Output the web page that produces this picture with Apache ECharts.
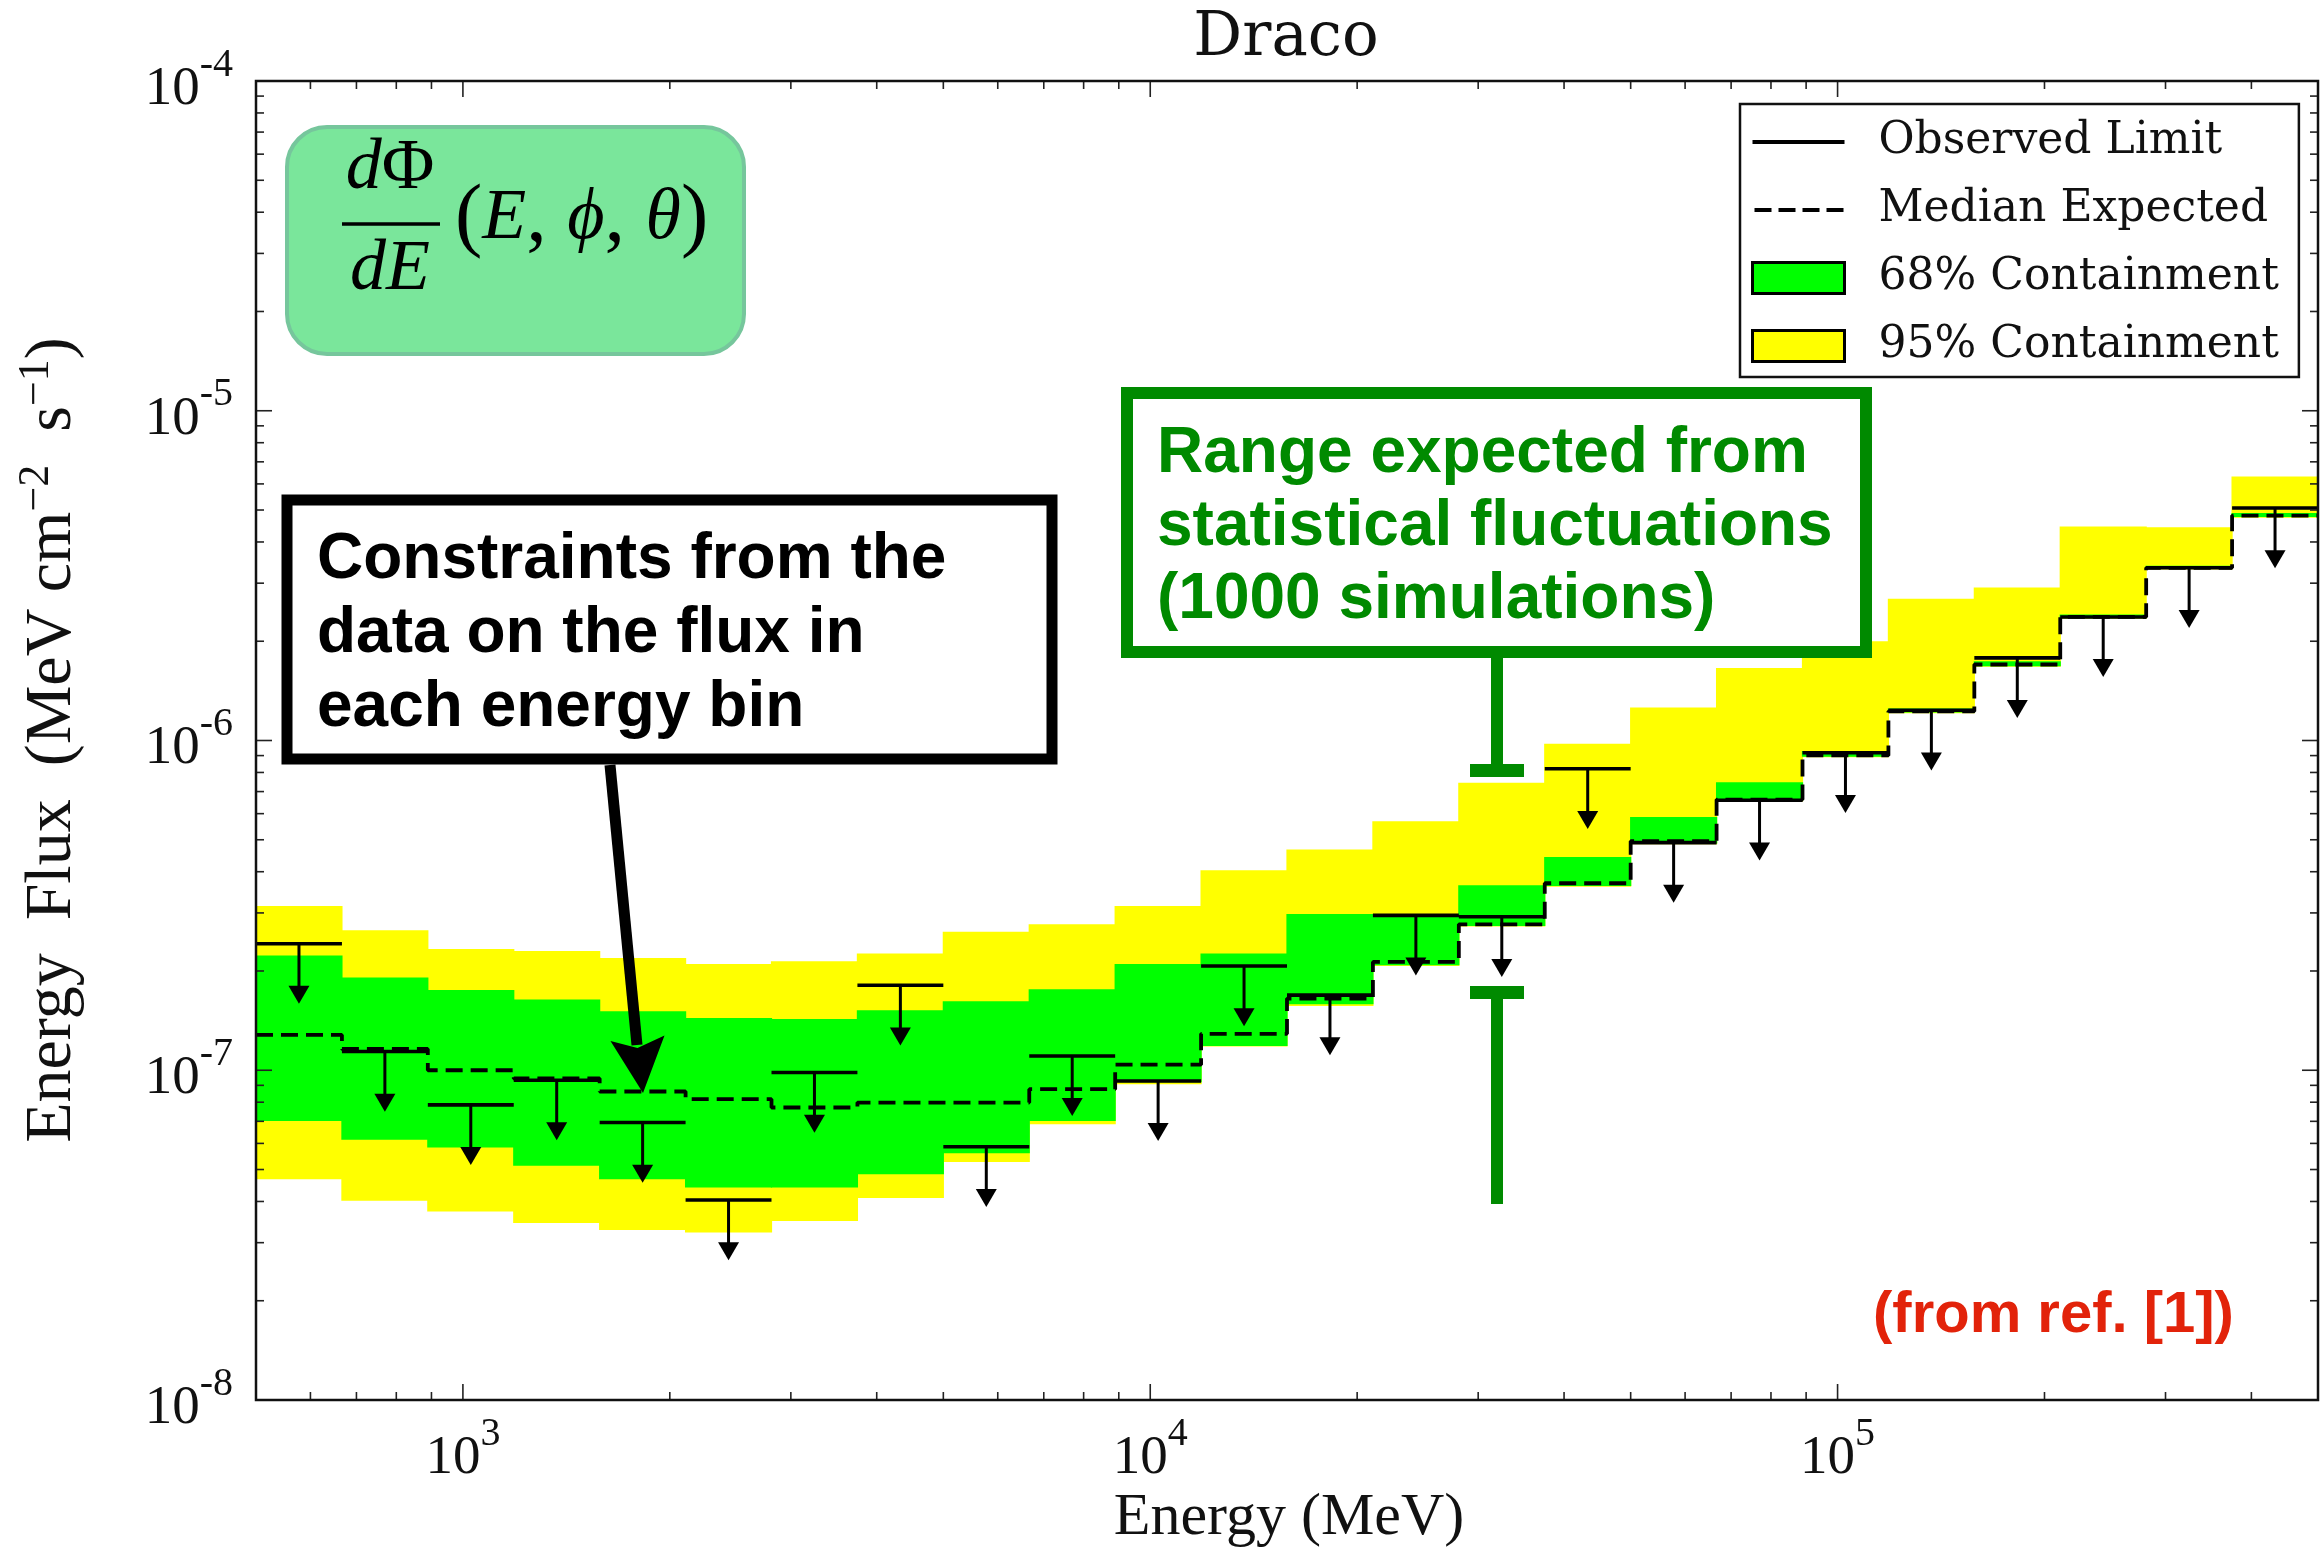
<!DOCTYPE html>
<html>
<head>
<meta charset="utf-8">
<script src="https://cdn.jsdelivr.net/npm/echarts@6/dist/echarts.min.js"></script>
<style>
  html, body { margin: 0; padding: 0; background: #ffffff; }
  #chart { width: 2320px; height: 1547px; }
</style>
</head>
<body>
<div id="chart"></div>
<script>
// Energy bin edges (MeV): 24 logarithmic bins between 500 MeV and 500 GeV
const binEdges = [500, 666.8, 889.1, 1185.7, 1581.1, 2108.5, 2811.7, 3749.5,
  5000, 6667.6, 8891.4, 11856.8, 15811.4, 21084.9, 28117.1, 37494.7,
  50000, 66676, 88914, 118568, 158114, 210848, 281171, 374947, 500000];

// Bin-by-bin 95% C.L. upper limits on the energy flux (MeV cm^-2 s^-1)
const observedLimit = [2.42e-7, 1.14e-7, 7.85e-8, 9.33e-8, 6.94e-8, 4.04e-8, 9.84e-8, 1.81e-7,
  5.86e-8, 1.105e-7, 9.28e-8, 2.07e-7, 1.69e-7, 2.95e-7, 2.92e-7, 8.21e-7,
  4.90e-7, 6.59e-7, 9.18e-7, 1.235e-6, 1.78e-6, 2.37e-6, 3.34e-6, 5.07e-6];

// Median of the simulated limits
const medianExpected = [1.28e-7, 1.16e-7, 1.0e-7, 9.44e-8, 8.62e-8, 8.17e-8, 7.71e-8, 7.98e-8,
  7.98e-8, 8.76e-8, 1.04e-7, 1.29e-7, 1.65e-7, 2.13e-7, 2.77e-7, 3.69e-7,
  4.95e-7, 6.62e-7, 9.01e-7, 1.226e-6, 1.70e-6, 2.37e-6, 3.34e-6, 4.81e-6];

// 68% containment of the simulated limits
const lower68 = [7.02e-8, 6.15e-8, 5.83e-8, 5.13e-8, 4.67e-8, 4.41e-8, 4.41e-8, 4.84e-8,
  5.60e-8, 7.02e-8, 9.20e-8, 1.185e-7, 1.585e-7, 2.08e-7, 2.74e-7, 3.62e-7,
  4.87e-7, 6.55e-7, 8.92e-7, 1.215e-6, 1.68e-6, 2.35e-6, 3.31e-6, 4.76e-6];
const upper68 = [2.23e-7, 1.91e-7, 1.75e-7, 1.64e-7, 1.51e-7, 1.44e-7, 1.43e-7, 1.52e-7,
  1.62e-7, 1.76e-7, 2.10e-7, 2.26e-7, 2.98e-7, 2.98e-7, 3.64e-7, 4.43e-7,
  5.86e-7, 7.47e-7, 9.30e-7, 1.25e-6, 1.74e-6, 2.41e-6, 3.39e-6, 4.90e-6];

// 95% containment of the simulated limits
const lower95 = [4.67e-8, 4.02e-8, 3.73e-8, 3.44e-8, 3.28e-8, 3.22e-8, 3.49e-8, 4.10e-8,
  5.27e-8, 6.86e-8, 9.07e-8, 1.18e-7, 1.566e-7, 2.07e-7, 2.73e-7, 3.60e-7,
  4.85e-7, 6.53e-7, 8.90e-7, 1.21e-6, 1.675e-6, 2.34e-6, 3.30e-6, 4.74e-6];
const upper95 = [3.15e-7, 2.66e-7, 2.33e-7, 2.30e-7, 2.19e-7, 2.10e-7, 2.14e-7, 2.26e-7,
  2.63e-7, 2.77e-7, 3.15e-7, 4.04e-7, 4.67e-7, 5.69e-7, 7.44e-7, 9.77e-7,
  1.26e-6, 1.66e-6, 2.00e-6, 2.69e-6, 2.91e-6, 4.46e-6, 4.43e-6, 6.32e-6];

// Axis ranges and tick labels
const X_MIN = 500, X_MAX = 500000, Y_MIN = 1e-8, Y_MAX = 1e-4;
const xMajorTicks = [1e3, 1e4, 1e5];
const xTickExponents = ['3', '4', '5'];
const yMajorTicks = [1e-8, 1e-7, 1e-6, 1e-5, 1e-4];
const yTickExponents = ['-8', '-7', '-6', '-5', '-4'];
const minorMantissas = [2, 3, 4, 5, 6, 7, 8, 9];
const xMinorTicks = [100, 1000, 10000, 100000]
  .flatMap(d => minorMantissas.map(m => m * d))
  .filter(v => v > X_MIN && v < X_MAX);
const yMinorTicks = [1e-8, 1e-7, 1e-6, 1e-5]
  .flatMap(d => minorMantissas.map(m => m * d));

const SERIF = "'Liberation Serif', 'DejaVu Serif', serif";
const LEGEND_SERIF = "'DejaVu Serif', serif";
const SANS = "'Liberation Sans', Arial, sans-serif";

// Legend glyphs: a solid bar and a four-dash bar inside a 92 x 31 box
const SOLID_ICON = 'path://M0,0L0.05,0L0,0.05Z M92,31L91.95,31L92,30.95Z M0,13.5L92,13.5L92,17.5L0,17.5Z';
const DASHED_ICON = 'path://M0,0L0.05,0L0,0.05Z M92,31L91.95,31L92,30.95Z ' +
  'M2,13.5L19,13.5L19,17.5L2,17.5Z M26,13.5L43,13.5L43,17.5L26,17.5Z ' +
  'M50,13.5L67,13.5L67,17.5L50,17.5Z M74,13.5L91,13.5L91,17.5L74,17.5Z';

function labelFor(v, ticks, exps) {
  for (let i = 0; i < ticks.length; i++) {
    if (Math.abs(v / ticks[i] - 1) < 1e-6) return '{b|10}{s|' + exps[i] + '}';
  }
  return '';
}
const tickRich = {
  b: { fontFamily: SERIF, fontSize: 55, lineHeight: 72, color: '#111', verticalAlign: 'bottom' },
  s: { fontFamily: SERIF, fontSize: 40, lineHeight: 32, color: '#111', verticalAlign: 'top' }
};

// Stepped line data built from the bin arrays
function stepLine(values) {
  const pts = [];
  values.forEach((v, i) => {
    pts.push([binEdges[i], v], [binEdges[i + 1], v]);
  });
  return pts;
}
function brokenSegments(values) {
  const pts = [];
  values.forEach((v, i) => {
    pts.push([binEdges[i], v], [binEdges[i + 1], v], [binEdges[i + 1], '-']);
  });
  return pts;
}
function bandData(lo, hi) {
  return lo.map((v, i) => [binEdges[i], binEdges[i + 1], v, hi[i]]);
}
function bandRenderer(color) {
  return function (params, api) {
    const p0 = api.coord([api.value(0), api.value(3)]);
    const p1 = api.coord([api.value(1), api.value(2)]);
    return {
      type: 'rect',
      shape: { x: p0[0] - 0.6, y: p0[1], width: p1[0] - p0[0] + 1.2, height: p1[1] - p0[1] },
      style: { fill: color }
    };
  };
}

const option = {
  animation: false,
  backgroundColor: '#ffffff',
  grid: { left: 256, right: 2, top: 81, bottom: 147, show: false, outerBoundsMode: 'none' },
  xAxis: {
    type: 'log', logBase: 10, min: X_MIN, max: X_MAX,
    axisLine: { show: false }, axisTick: { show: false }, splitLine: { show: false },
    axisLabel: {
      margin: 14,
      formatter: v => labelFor(v, xMajorTicks, xTickExponents),
      rich: tickRich
    }
  },
  yAxis: {
    type: 'log', logBase: 10, min: Y_MIN, max: Y_MAX,
    axisLine: { show: false }, axisTick: { show: false }, splitLine: { show: false },
    axisLabel: {
      margin: 23,
      formatter: v => labelFor(v, yMajorTicks, yTickExponents),
      rich: tickRich
    }
  },
  legend: {
    left: 1740, top: 104, orient: 'vertical',
    padding: [16, 20, 9, 11], itemGap: 24, itemWidth: 92, itemHeight: 31,
    backgroundColor: '#ffffff', borderColor: '#111', borderWidth: 2.5, borderRadius: 0,
    textStyle: { fontFamily: LEGEND_SERIF, fontSize: 44, color: '#111', padding: [0, 0, 0, 29] },
    data: [
      { name: 'Observed Limit', icon: SOLID_ICON, itemStyle: { color: '#000', borderWidth: 0 } },
      { name: 'Median Expected', icon: DASHED_ICON, itemStyle: { color: '#000', borderWidth: 0 } },
      { name: '68% Containment', icon: 'rect', itemStyle: { color: '#00ff00', borderColor: '#000', borderWidth: 3 } },
      { name: '95% Containment', icon: 'rect', itemStyle: { color: '#ffff00', borderColor: '#000', borderWidth: 3 } }
    ]
  },
  series: [
    {
      name: '95% Containment', type: 'custom', z: 1, silent: true,
      itemStyle: { color: '#ffff00' },
      data: bandData(lower95, upper95), encode: { x: [0, 1], y: [2, 3] },
      renderItem: bandRenderer('#ffff00')
    },
    {
      name: '68% Containment', type: 'custom', z: 2, silent: true,
      itemStyle: { color: '#00ff00' },
      data: bandData(lower68, upper68), encode: { x: [0, 1], y: [2, 3] },
      renderItem: bandRenderer('#00ff00')
    },
    {
      name: 'Median Expected', type: 'line', z: 3, silent: true,
      symbol: 'none', showSymbol: false,
      itemStyle: { color: '#000' },
      lineStyle: { color: '#000', width: 3.8, type: [17, 8] },
      data: stepLine(medianExpected)
    },
    {
      name: 'Observed Limit', type: 'line', z: 4, silent: true,
      symbol: 'none', showSymbol: false, connectNulls: false,
      itemStyle: { color: '#000' },
      lineStyle: { color: '#000', width: 3.6 },
      data: brokenSegments(observedLimit)
    },
    {
      // downward arrows marking each value as an upper limit
      name: 'limitArrows', type: 'custom', z: 4, silent: true,
      data: observedLimit.map((v, i) => [binEdges[i], binEdges[i + 1], v]),
      encode: { x: [0, 1], y: 2 },
      renderItem: function (params, api) {
        const xc = Math.sqrt(api.value(0) * api.value(1));
        const v = api.value(2);
        const p = api.coord([xc, v]);
        const tip = api.coord([xc, v * 0.657]);
        const headH = 18, headW = 21;
        return {
          type: 'group',
          children: [
            { type: 'line', shape: { x1: p[0], y1: p[1], x2: p[0], y2: tip[1] - headH + 2 },
              style: { stroke: '#000', lineWidth: 3 } },
            { type: 'polygon', shape: { points: [[p[0] - headW / 2, tip[1] - headH], [p[0] + headW / 2, tip[1] - headH], [p[0], tip[1]]] },
              style: { fill: '#000' } }
          ]
        };
      }
    },
    {
      // x-axis ticks on the bottom and top edges, pointing inward
      name: 'xTicks', type: 'custom', z: 10, silent: true,
      data: xMajorTicks.map(v => [v, Y_MIN, 1]).concat(xMinorTicks.map(v => [v, Y_MIN, 0])),
      encode: { x: 0, y: 1 },
      renderItem: function (params, api) {
        const v = api.value(0), len = api.value(2) ? 16 : 8;
        const b = api.coord([v, Y_MIN]), t = api.coord([v, Y_MAX]);
        const st = { stroke: '#222', lineWidth: 1.6 };
        return { type: 'group', children: [
          { type: 'line', shape: { x1: b[0], y1: b[1], x2: b[0], y2: b[1] - len }, style: st },
          { type: 'line', shape: { x1: t[0], y1: t[1], x2: t[0], y2: t[1] + len }, style: st }
        ] };
      }
    },
    {
      // y-axis ticks on the left and right edges, pointing inward
      name: 'yTicks', type: 'custom', z: 10, silent: true,
      data: yMajorTicks.slice(1, -1).map(v => [X_MIN, v, 1]).concat(yMinorTicks.map(v => [X_MIN, v, 0])),
      encode: { x: 0, y: 1 },
      renderItem: function (params, api) {
        const v = api.value(1), len = api.value(2) ? 16 : 8;
        const l = api.coord([X_MIN, v]), r = api.coord([X_MAX, v]);
        const st = { stroke: '#222', lineWidth: 1.6 };
        return { type: 'group', children: [
          { type: 'line', shape: { x1: l[0], y1: l[1], x2: l[0] + len, y2: l[1] }, style: st },
          { type: 'line', shape: { x1: r[0], y1: r[1], x2: r[0] - len, y2: r[1] }, style: st }
        ] };
      }
    },
    {
      // plot frame
      name: 'frame', type: 'custom', z: 11, silent: true,
      data: [[X_MIN, Y_MIN]], encode: { x: 0, y: 1 },
      renderItem: function (params, api) {
        const a = api.coord([X_MIN, Y_MAX]), b = api.coord([X_MAX, Y_MIN]);
        return { type: 'rect', shape: { x: a[0], y: a[1], width: b[0] - a[0], height: b[1] - a[1] },
          style: { fill: 'none', stroke: '#111', lineWidth: 2.5 } };
      }
    }
  ],
  graphic: [
    // title
    { type: 'text', x: 1286, y: 39, z: 20,
      style: { text: 'Draco', fontFamily: LEGEND_SERIF, fontSize: 61, fill: '#111', align: 'center', verticalAlign: 'middle' } },
    // axis titles
    { type: 'text', x: 1289, y: 1518, z: 20,
      style: { text: 'Energy (MeV)', fontFamily: SERIF, fontSize: 60, fill: '#111', align: 'center', verticalAlign: 'middle' } },
    { type: 'text', x: 50, y: 740, rotation: Math.PI / 2, z: 20,
      style: {
        text: '{b|Energy  Flux  (MeV cm}{s|\u22122}{b|  s}{s|\u22121}{b|)}',
        align: 'center', verticalAlign: 'middle',
        rich: {
          b: { fontFamily: SERIF, fontSize: 66, lineHeight: 72, verticalAlign: 'bottom', fill: '#111' },
          s: { fontFamily: SERIF, fontSize: 44, lineHeight: 46, verticalAlign: 'top', fill: '#111' }
        }
      } },
    // formula box
    { type: 'rect', z: 20, shape: { x: 287, y: 127, width: 457, height: 227, r: 40 },
      style: { fill: '#7ae69b', stroke: '#76c69c', lineWidth: 4 } },
    { type: 'text', x: 390, y: 169, z: 21,
      style: { text: '{i|d}{u|\u03a6}', align: 'center', verticalAlign: 'middle',
        rich: { i: { fontFamily: SERIF, fontStyle: 'italic', fontSize: 72, fill: '#000' },
                u: { fontFamily: SERIF, fontSize: 72, fill: '#000' } } } },
    { type: 'line', z: 21, shape: { x1: 342, y1: 224, x2: 440, y2: 224 }, style: { stroke: '#000', lineWidth: 3.3 } },
    { type: 'text', x: 390, y: 270, z: 21,
      style: { text: 'dE', fontFamily: SERIF, fontStyle: 'italic', fontSize: 72, fill: '#000', align: 'center', verticalAlign: 'middle' } },
    { type: 'text', x: 455, y: 219, z: 21,
      style: { text: '{p|(}{i|E}{p|, }{i|\u03d5}{p|, }{i|\u03b8}{p|)}', align: 'left', verticalAlign: 'middle',
        rich: { i: { fontFamily: SERIF, fontStyle: 'italic', fontSize: 72, fill: '#000' },
                p: { fontFamily: SERIF, fontSize: 82, fill: '#000' } } } },
    // data-constraint annotation
    { type: 'rect', z: 20, shape: { x: 287, y: 500, width: 765, height: 259 },
      style: { fill: '#ffffff', stroke: '#000', lineWidth: 11 } },
    { type: 'text', x: 317, y: 523, z: 21,
      style: { text: 'Constraints from the\ndata on the flux in\neach energy bin', fontFamily: SANS, fontWeight: 'bold',
        fontSize: 64, lineHeight: 74, fill: '#000', align: 'left', verticalAlign: 'top' } },
    { type: 'line', z: 21, shape: { x1: 610, y1: 765, x2: 637, y2: 1045 }, style: { stroke: '#000', lineWidth: 11 } },
    { type: 'polygon', z: 21, shape: { points: [[643, 1093], [664.5, 1035.5], [637.5, 1048], [610.5, 1041]] },
      style: { fill: '#000' } },
    // simulation-range annotation
    { type: 'rect', z: 20, shape: { x: 1127, y: 393, width: 739, height: 259 },
      style: { fill: '#ffffff', stroke: '#008a00', lineWidth: 12 } },
    { type: 'text', x: 1157, y: 418, z: 21,
      style: { text: 'Range expected from\nstatistical fluctuations\n(1000 simulations)', fontFamily: SANS, fontWeight: 'bold',
        fontSize: 64, lineHeight: 73, fill: '#008a00', align: 'left', verticalAlign: 'top' } },
    { type: 'rect', z: 21, shape: { x: 1491, y: 655, width: 12, height: 112 }, style: { fill: '#008a00' } },
    { type: 'rect', z: 21, shape: { x: 1470, y: 764, width: 54, height: 13 }, style: { fill: '#008a00' } },
    { type: 'rect', z: 21, shape: { x: 1470, y: 986, width: 54, height: 13 }, style: { fill: '#008a00' } },
    { type: 'rect', z: 21, shape: { x: 1491, y: 997, width: 12, height: 207 }, style: { fill: '#008a00' } },
    // source note
    { type: 'text', x: 1873, y: 1316, z: 21,
      style: { text: '(from ref. [1])', fontFamily: SANS, fontWeight: 'bold', fontSize: 58, fill: '#e2230a',
        align: 'left', verticalAlign: 'middle' } }
  ]
};

const chart = echarts.init(document.getElementById('chart'), null, { renderer: 'canvas' });
chart.setOption(option);
</script>
</body>
</html>
